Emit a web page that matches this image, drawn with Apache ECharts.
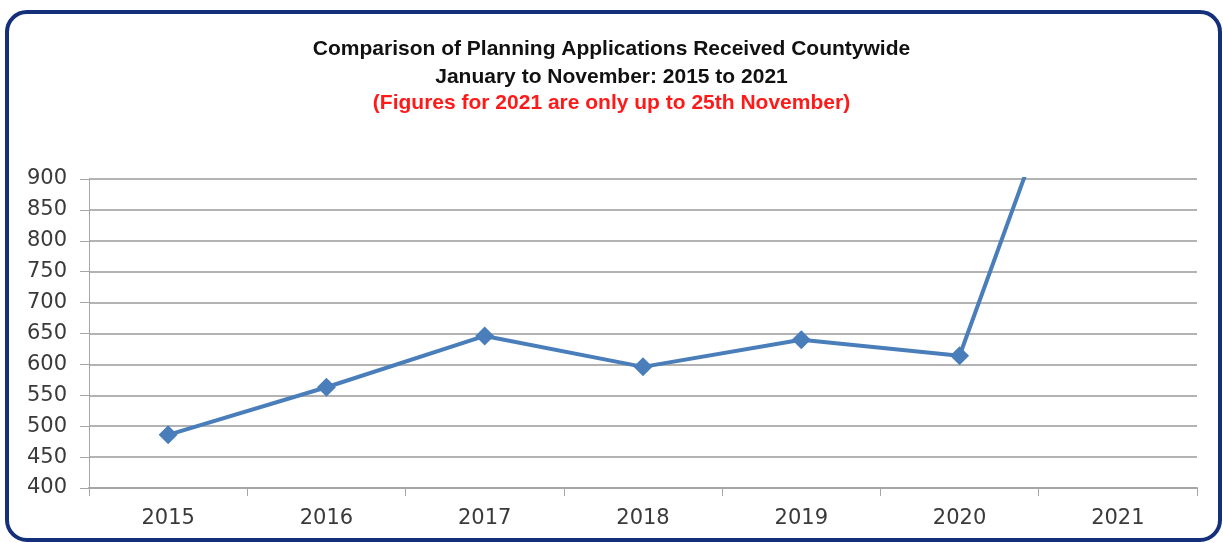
<!DOCTYPE html>
<html>
<head>
<meta charset="utf-8">
<script src="https://cdn.jsdelivr.net/npm/echarts@6/dist/echarts.min.js"></script>
<style>
  html, body { margin: 0; padding: 0; background: #fff; }
  #frame {
    position: absolute; left: 5px; top: 10px; width: 1209px; height: 524px;
    border: 4px solid #15307a; border-radius: 22px; background: #fff;
  }
  #chart { position: absolute; left: 0; top: 0; width: 1223px; height: 543px; }
</style>
</head>
<body>
<div id="frame"></div>
<div id="chart"></div>
<script>
const years = ['2015', '2016', '2017', '2018', '2019', '2020', '2021']
const applications = [486, 563, 646, 596, 640, 614, 1320]
const yTicks = { min: 400, max: 900, step: 50 }

const chart = echarts.init(document.getElementById('chart'))
chart.setOption({
  animation: false,
  title: {
    text: 'Comparison of Planning Applications Received Countywide\nJanuary to November: 2015 to 2021',
    subtext: '(Figures for 2021 are only up to 25th November)',
    left: 'center',
    top: 30,
    itemGap: 2,
    textStyle: {
      fontFamily: 'Liberation Sans',
      fontWeight: 'bold',
      fontSize: 21,
      lineHeight: 28,
      color: '#111'
    },
    subtextStyle: {
      fontFamily: 'Liberation Sans',
      fontWeight: 'bold',
      fontSize: 21,
      color: '#ff1a1a'
    }
  },
  grid: { left: 89, right: 26, top: 179, bottom: 55 },
  xAxis: {
    type: 'category',
    data: years,
    boundaryGap: true,
    axisLine: { lineStyle: { color: '#a6a6a6', width: 2 } },
    axisTick: { show: true, length: 8, lineStyle: { color: '#a6a6a6', width: 1 } },
    axisLabel: {
      margin: 20,
      fontSize: 21,
      fontFamily: 'DejaVu Sans',
      color: '#3a3a3a'
    }
  },
  yAxis: {
    type: 'value',
    min: yTicks.min,
    max: yTicks.max,
    interval: yTicks.step,
    axisLine: { show: true, lineStyle: { color: '#a6a6a6', width: 1 } },
    axisTick: { show: true, length: 9, lineStyle: { color: '#a6a6a6' } },
    splitLine: { lineStyle: { color: '#b3b3b3', width: 2 } },
    axisLabel: {
      margin: 22,
      fontSize: 21,
      fontFamily: 'DejaVu Sans',
      color: '#3a3a3a'
    }
  },
  series: [{
    type: 'line',
    data: applications,
    clip: true,
    symbol: 'diamond',
    symbolSize: 19,
    lineStyle: { color: '#4a7ebb', width: 4 },
    itemStyle: { color: '#4a7ebb' }
  }]
})
window.addEventListener('resize', () => chart.resize())
</script>
</body>
</html>
